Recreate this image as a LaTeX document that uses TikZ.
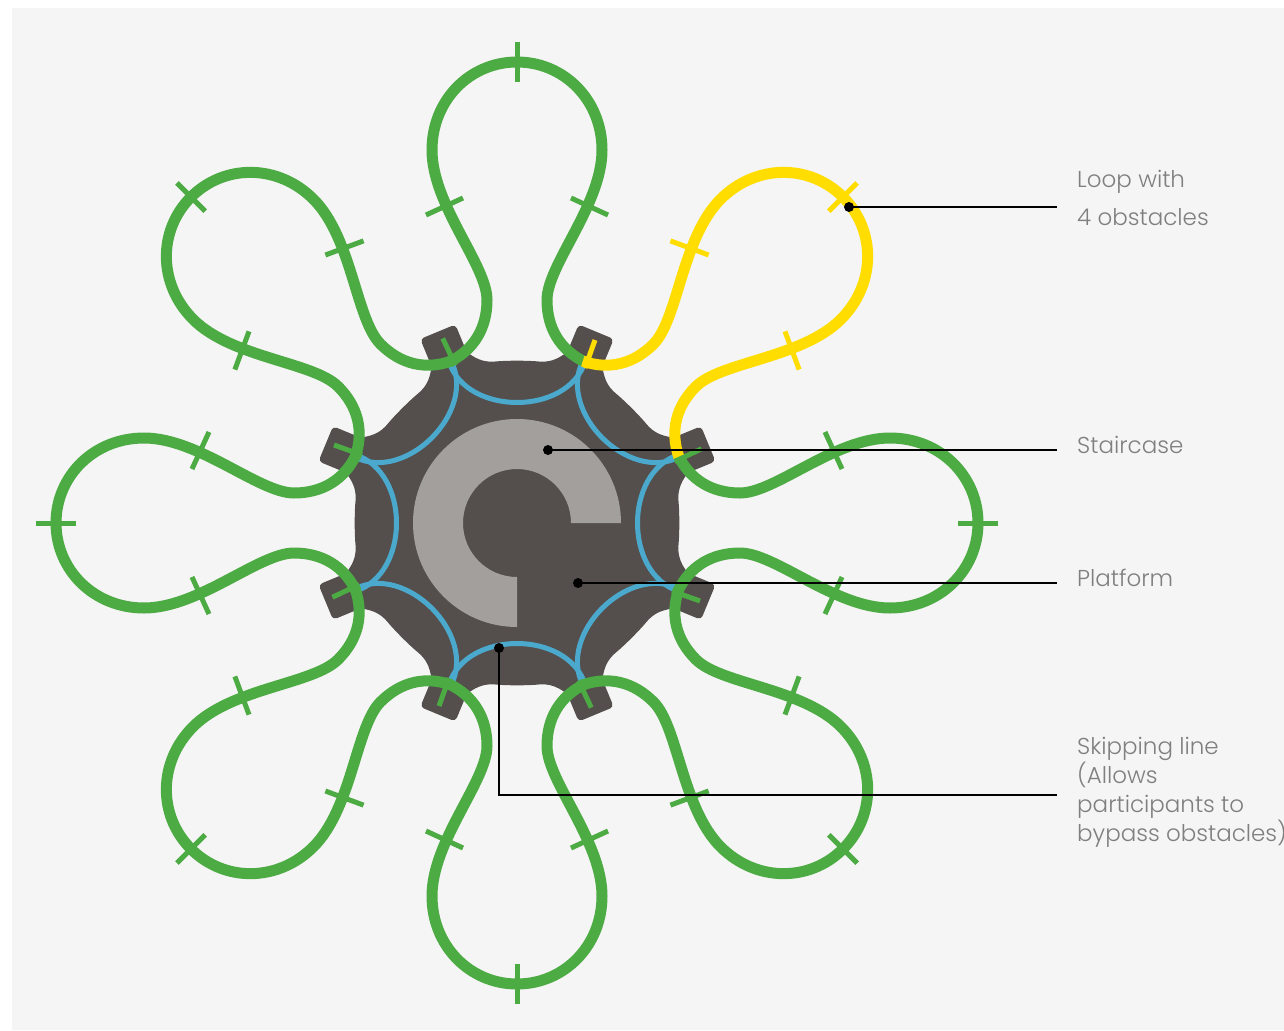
\documentclass[tikz,border=0pt]{standalone}
\usepackage{fontspec}
\setmainfont{Poppins}[UprightFont=* Light]
\definecolor{bgc}{HTML}{F5F5F5}
\definecolor{platc}{HTML}{544F4D}
\definecolor{stairc}{HTML}{A39F9C}
\definecolor{bluec}{HTML}{4AA9CC}
\definecolor{greenc}{HTML}{4CAB42}
\definecolor{yellowc}{HTML}{FFDD00}
\definecolor{labc}{HTML}{7F7F7F}
\tikzset{
  x=1pt,y=1pt,
  looppath/.style={line width=11pt,draw=#1},
  tickmark/.style={line width=5pt,draw=#1},
  skipline/.style={line width=5pt,draw=bluec},
  leader/.style={line width=2pt,draw=black},
  leaderdot/.style={circle,fill=black,inner sep=0pt,minimum size=10pt},
  lab/.style={anchor=north west,inner sep=0pt,text=labc,align=left,font=\fontsize{23}{29}\selectfont},
}
\newcommand{\oneloop}[1]{%
  \draw[looppath=#1] (68,161) .. controls (43,173) and (30,195) .. (30,223)
    .. controls (30,258) and (85,318) .. (85,373)
    .. controls (85,423) and (47,461) .. (0,461)
    .. controls (-47,461) and (-85,423) .. (-85,373)
    .. controls (-85,318) and (-30,258) .. (-30,223)
    .. controls (-30,195) and (-43,173) .. (-68,161);
  \draw[tickmark=#1] (0,441) -- (0,481);
  \draw[tickmark=#1] (54,325) -- (91,308);
  \draw[tickmark=#1] (-54,325) -- (-91,308);
}
\begin{document}
\begin{tikzpicture}
\useasboundingbox (0,0) rectangle (1284,-1030);
\fill[bgc] (12,-8) rectangle (1284,-1030);
\begin{scope}[shift={(517,-523)}]
  % platform
  \fill[platc] (106.3:178) \foreach \k in {0,...,7} {
     .. controls ({90-45*\k+13.5}:167) and ({90-45*\k+11}:164) .. ({90-45*\k+8}:163)
     .. controls ({90-45*\k+4}:163) and ({90-45*\k-4}:163) .. ({90-45*\k-8}:163)
     .. controls ({90-45*\k-11}:164) and ({90-45*\k-13.5}:167) .. ({90-45*\k-16.3}:178)
     -- ({90-45*\k-45+16.3}:178)
  } -- cycle;
  \foreach \k in {0,...,7} {
    \begin{scope}[rotate={-45*\k-22.5}]
      \fill[platc,rounded corners=4pt] (-19,160) rectangle (19,207);
    \end{scope}
  }
  % staircase
  \fill[stairc] (104,0) arc[start angle=0,end angle=270,radius=104]
     -- (0,-54) arc[start angle=270,end angle=0,radius=54] -- cycle;
  % skipping lines
  \foreach \k in {0,...,7} {
    \begin{scope}[rotate={-45*\k}]
      \draw[skipline] (-68,161) .. controls (-50,107) and (50,107) .. (68,161);
    \end{scope}
  }
  % green loops
  \foreach \k in {0,2,3,4,5,6,7} {
    \begin{scope}[rotate={-45*\k}]
      \oneloop{greenc}
    \end{scope}
  }
  \begin{scope}[rotate=-45]
    \oneloop{yellowc}
  \end{scope}
  % ticks on tabs
  \foreach \k in {1,...,7} {
    \begin{scope}[rotate={-45*\k}]
      \draw[tickmark=greenc] (68,155) -- (78,183);
    \end{scope}
  }
  \draw[tickmark=yellowc] (68,155) -- (78,183);
\end{scope}
% labels
\node[lab] (tLoop) at (1077,-170) {Loop with\\[9pt]4 obstacles};
\node[lab] (tStair) at (1077,-436) {Staircase};
\node[lab] (tPlat) at (1077,-569) {Platform};
\node[lab] (tSkip) at (1077,-737) {Skipping line\\(Allows\\participants to\\bypass obstacles)};
% leaders
\node[leaderdot] (dLoop) at (849,-207) {};
\node[leaderdot] (dStair) at (548,-450) {};
\node[leaderdot] (dPlat) at (578,-583) {};
\node[leaderdot] (dSkip) at (499,-648) {};
\coordinate (eLoop) at (1057,-207);
\coordinate (eStair) at (1057,-450);
\coordinate (ePlat) at (1057,-583);
\coordinate (eSkip) at (1057,-795);
\draw[leader] (dLoop.center) -- (eLoop);
\draw[leader] (dStair.center) -- (eStair);
\draw[leader] (dPlat.center) -- (ePlat);
\draw[leader] (dSkip.center) |- (eSkip);
\end{tikzpicture}
\end{document}
